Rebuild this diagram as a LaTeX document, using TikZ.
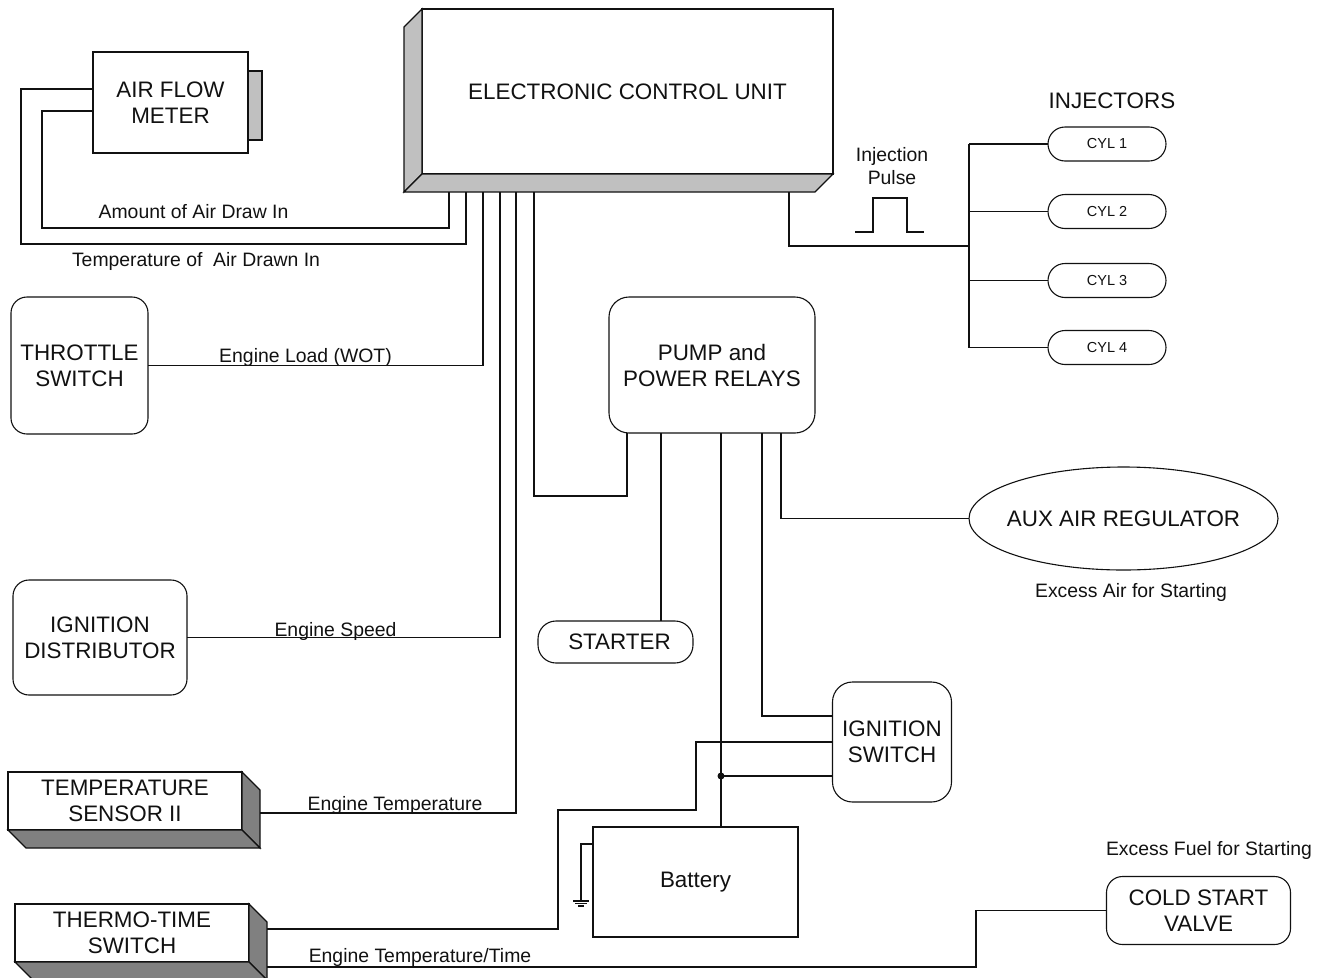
\documentclass[tikz,border=0pt]{standalone}
\usepackage{fontspec}
\setmainfont{Liberation Sans}
\usetikzlibrary{shapes.geometric,calc}
\definecolor{ink}{HTML}{111111}
\definecolor{slab}{HTML}{C0C0C0}
\definecolor{slabdark}{HTML}{808080}

\begin{document}
\begin{tikzpicture}[x=1pt,y=-1pt,
  every node/.style={inner sep=0pt, outer sep=0pt, text=ink},
  bigtxt/.style={font=\fontsize{22.4}{26}\selectfont, align=center},
  smalltxt/.style={font=\fontsize{19.4}{23}\selectfont},
  cyltxt/.style={font=\fontsize{14.5}{17}\selectfont},
  box/.style={rectangle, draw=ink, line width=1.1pt, fill=white, bigtxt},
  rbox/.style={box, rounded corners=16pt},
  cylbox/.style={box, cyltxt, rounded corners=17pt, minimum width=118pt, minimum height=34pt},
  wire/.style={draw=ink, line width=1.1pt},
  sig/.style={smalltxt, anchor=base},
  slabfill/.style={draw=ink, line width=1.1pt, fill=slab},
  darkslab/.style={draw=ink, line width=1.1pt, fill=slabdark}
]
\useasboundingbox (0,0) rectangle (1329,977);

% control unit with its 3d edge
\node[box, minimum width=411pt, minimum height=165pt] (ecu) at (627.5,91.5) {ELECTRONIC CONTROL UNIT};
\draw[slabfill] (ecu.north west) -- ++(-18,18) -- ($(ecu.south west)+(-18,18)$) -- (ecu.south west) -- cycle;
\draw[slabfill] (ecu.south west) -- ++(-18,18) -- ($(ecu.south east)+(-18,18)$) -- (ecu.south east) -- cycle;

% sensors
\node[box, minimum width=155pt, minimum height=101pt] (afm) at (170.5,102.5) {AIR FLOW\\METER};
\node[box, fill=slab, minimum width=14pt, minimum height=69pt, anchor=west] (afmtab) at ($(afm.east)+(0,3)$) {};
\node[rbox, minimum width=137pt, minimum height=137pt] (throttle) at (79.5,365.5) {THROTTLE\\SWITCH};
\node[rbox, minimum width=174pt, minimum height=115pt] (distrib) at (100,637.5) {IGNITION\\DISTRIBUTOR};

\node[box, minimum width=234pt, minimum height=58pt] (tsens) at (125,801) {TEMPERATURE\\SENSOR II};
\draw[darkslab] (tsens.north east) -- ++(18,18) -- ($(tsens.south east)+(18,18)$) -- (tsens.south east) -- cycle;
\draw[darkslab] (tsens.south west) -- ++(18,18) -- ($(tsens.south east)+(18,18)$) -- (tsens.south east) -- cycle;

\node[box, minimum width=234pt, minimum height=58pt] (thermo) at (132,933) {THERMO-TIME\\SWITCH};
\draw[darkslab] (thermo.north east) -- ++(18,18) -- ($(thermo.south east)+(18,18)$) -- (thermo.south east) -- cycle;
\draw[darkslab] (thermo.south west) -- ++(18,18) -- ($(thermo.south east)+(18,18)$) -- (thermo.south east) -- cycle;

% actuators and supply
\node[rbox, rounded corners=20pt, minimum width=206pt, minimum height=136pt] (relays) at (712,365) {PUMP and\\POWER RELAYS};
\node[rbox, rounded corners=18pt, minimum width=155pt, minimum height=42pt] (starter) at (615.5,642) {\hspace*{8pt}STARTER};
\node[rbox, rounded corners=20pt, minimum width=119pt, minimum height=120pt] (ignsw) at (892,742) {IGNITION\\SWITCH};
\node[box, minimum width=205pt, minimum height=110pt] (battery) at (695.5,882) {Battery};
\node[rbox, minimum width=184pt, minimum height=68pt] (coldstart) at (1198.5,910.5) {COLD START\\VALVE};
\node[box, ellipse, minimum width=309pt, minimum height=103pt] (auxair) at (1123.5,518.5) {\makebox[0pt]{AUX AIR REGULATOR}};

\node[bigtxt] (injectors) at (1112,101) {INJECTORS};
\foreach \n/\y in {1/144,2/211.5,3/280.5,4/347.5}
  \node[cylbox] (cyl\n) at (1107,\y) {CYL \n};

% signal names
\node[sig] (amount) at (193.5,218) {Amount of Air Draw In};
\node[sig] (tempair) at (196,266) {Temperature of\ \ Air Drawn In};
\node[sig] (load) at (305.5,362) {Engine Load (WOT)};
\node[sig] (speed) at (335.5,636) {Engine Speed};
\node[sig] (etemp) at (395,810) {Engine Temperature};
\node[sig] (etime) at (420,962) {Engine Temperature/Time};
\node[sig] (exair) at (1131,597) {Excess Air for Starting};
\node[sig] (exfuel) at (1209,855) {Excess Fuel for Starting};
\node[smalltxt, align=center] (pulse) at (892,166) {Injection\\Pulse};

% pins
\foreach \nm/\x in {pA/449,pB/466,pC/483,pD/500,pE/516,pF/534,pG/789}
  \coordinate (\nm) at (\x,192);
\foreach \nm/\dx in {rA/18,rB/52,rC/112,rD/153,rE/172}
  \coordinate (\nm) at ($(relays.south west)+(\dx,0)$);
\coordinate (bus) at (969,246);
\coordinate (cjog) at (976,0);

% ecu wiring
\draw[wire] (pA) |- (42,228) |- (afm.west |- 0,111);
\draw[wire] (pB) |- (21,244) |- (afm.west |- 0,89);
\draw[wire] (pC) |- (throttle.east);
\draw[wire] (pD) |- (distrib.east);
\draw[wire] (pE) |- ($(tsens.east)+(18,12)$);
\draw[wire] (pF) |- (rA |- 0,496) -- (rA);
\draw[wire] (pG) |- (bus);
\draw[wire] (cyl1.west -| bus) -- (cyl4.west -| bus);
\foreach \n in {1,...,4}
  \draw[wire] (cyl\n.west -| bus) -- (cyl\n.west);
\draw[wire] (855,232) -- ++(18,0) -- ++(0,-34) -- ++(34,0) -- ++(0,34) -- ++(17,0);

% relay wiring
\draw[wire] (rB) -- (rB |- starter.north);
\draw[wire] (rC) -- (rC |- battery.north);
\draw[wire] (rD) |- (ignsw.west |- 0,716);
\draw[wire] (rE) |- (auxair.west);
\coordinate (junc) at (rC |- 0,776);
\fill[ink] (junc) circle (3.5pt);
\draw[wire] (junc) -- (junc -| ignsw.west);

% thermo-time switch
\draw[wire] ($(thermo.east)+(18,-4)$) -| (558,810) -| (696,742) -- (ignsw.west |- 0,742);
\draw[wire] ($(thermo.east)+(18,34)$) -| (coldstart.west -| cjog) -- (coldstart.west);

% ground
\draw[wire] (battery.west |- 0,844) -| (581,901);
\draw[wire] (573,901) -- (589,901) (575,903.5) -- (587,903.5) (578,906) -- (584,906);
\end{tikzpicture}
\end{document}
